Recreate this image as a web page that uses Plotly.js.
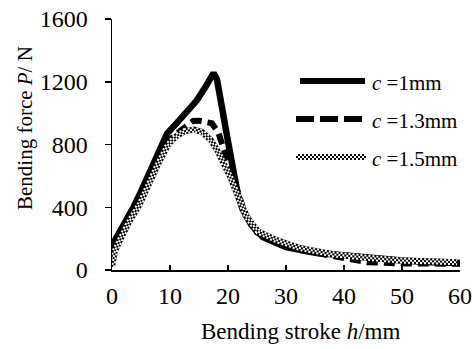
<!DOCTYPE html>
<html><head><meta charset="utf-8">
<script src="https://cdn.plot.ly/plotly-3.0.1.min.js"></script>
<style>html,body{margin:0;padding:0;background:#fff}#c{width:472px;height:349px}</style>
</head><body><div id="c"></div>
<script>
// Bending stroke h (mm) and bending force P (N) for three clearances c
var labels = ["=1mm", "=1.3mm", "=1.5mm"];
var xTitle = "Bending stroke <i>h</i>/mm";
var yTitle = "Bending force <i>P</i>/ N";
var x1 = [0,0.7,1.5,3,3.7,5,7,8.6,9.5,11,13,14.6,16,17,17.5,18.1,19,20,21,21.7,22.5,24,26,28,30,35,40,45,50,55,60];
var y1 = [155,200,240,340,400,500,660,790,870,930,1010,1080,1160,1230,1255,1215,1050,820,620,480,390,290,210,175,145,110,90,75,60,50,45];
var x2 = [0,1,3,5,7,9,10,11.5,13,14,15,16,17.2,18.3,19.1,20,21,21.7,23,25,28,32,38,44,50,55,60];
var y2 = [120,190,320,460,610,760,830,880,925,950,952,945,935,880,785,680,560,480,350,240,180,130,90,50,42,40,40];
var x3 = [0,0.5,1.5,3,4.8,6,8,9.7,11,12.5,14.2,15.5,17,18.1,19.2,20.3,21.5,23.2,25.2,28.4,32.4,38,44,50,55,59.5];
var y3 = [20,120,200,310,420,520,680,800,850,885,895,880,830,765,690,600,490,340,245,190,140,100,78,60,55,50];

var FONT = "Liberation Serif";
function checker(x, y, name) {
  return [
    {x:x, y:y, mode:"lines", name:name, line:{color:"#000", width:6}, hoverinfo:"skip", showlegend:false},
    {x:x, y:y, mode:"lines", name:name, line:{color:"#fff", width:6, dash:"2px,2px"}, hoverinfo:"skip", showlegend:false},
    {x:x, y:y, mode:"lines", name:name, line:{color:"#000", width:2}, hoverinfo:"skip", showlegend:false},
    {x:x, y:y, mode:"lines", name:name, line:{color:"#fff", width:2, dash:"0px,2px,2px,0px"}, hoverinfo:"skip", showlegend:false}
  ];
}
var traces = [
  {x:x2, y:y2, mode:"lines", name:"c "+labels[1], line:{color:"#000", width:6, dash:"11px,6px"}, showlegend:false},
  {x:x1, y:y1, mode:"lines", name:"c "+labels[0], line:{color:"#000", width:6.5}, showlegend:false}
].concat(checker(x3, y3, "c "+labels[2]));

function px2x(p){return (p-112)/348;}
function py2y(p){return (270-p)/251;}
var legY = [81,119,157];
var shapes = [
  {type:"line", xref:"paper", yref:"paper", x0:px2x(300), x1:px2x(365), y0:py2y(legY[0]), y1:py2y(legY[0]), line:{color:"#000", width:6}},
  {type:"line", xref:"paper", yref:"paper", x0:px2x(296), x1:px2x(366), y0:py2y(legY[1]), y1:py2y(legY[1]), line:{color:"#000", width:6, dash:"18px,6px"}},
  {type:"line", xref:"paper", yref:"paper", x0:px2x(296), x1:px2x(366), y0:py2y(legY[2]), y1:py2y(legY[2]), line:{color:"#000", width:6}},
  {type:"line", xref:"paper", yref:"paper", x0:px2x(296), x1:px2x(366), y0:py2y(legY[2]), y1:py2y(legY[2]), line:{color:"#fff", width:6, dash:"2px,2px"}},
  {type:"line", xref:"paper", yref:"paper", x0:px2x(296), x1:px2x(366), y0:py2y(legY[2]), y1:py2y(legY[2]), line:{color:"#000", width:2}},
  {type:"line", xref:"paper", yref:"paper", x0:px2x(296), x1:px2x(366), y0:py2y(legY[2]), y1:py2y(legY[2]), line:{color:"#fff", width:2, dash:"0px,2px,2px,0px"}}
];
var annotations = labels.map(function(t,i){
  return {xref:"paper", yref:"paper", x:px2x(370), y:py2y(legY[i]+2), xanchor:"left", yanchor:"middle",
    text:"<i>c</i> "+t, showarrow:false, font:{family:FONT, size:21, color:"#000"}};
});
annotations.push({xref:"paper", yref:"paper", x:px2x(300), y:py2y(331), xanchor:"center", yanchor:"middle",
  text:xTitle, showarrow:false, font:{family:FONT, size:23, color:"#000"}});
annotations.push({xref:"paper", yref:"paper", x:px2x(25), y:py2y(128), xanchor:"center", yanchor:"middle", textangle:-90,
  text:yTitle, showarrow:false, font:{family:FONT, size:21, color:"#000"}});

var layout = {
  width:472, height:349,
  margin:{l:112, r:12, t:19, b:79},
  paper_bgcolor:"#fff", plot_bgcolor:"#fff",
  font:{family:FONT, size:20, color:"#000"},
  showlegend:false,
  xaxis:{range:[0,60], tickvals:[0,10,20,30,40,50,60], showgrid:false, zeroline:false,
    showline:true, linecolor:"#000", linewidth:1.5, ticks:"inside", ticklen:5, tickcolor:"#000", tickwidth:1.5,
    ticklabelstandoff:4, tickfont:{family:FONT, size:24}},
  yaxis:{range:[0,1600], tickvals:[0,400,800,1200,1600], showgrid:false, zeroline:false,
    showline:true, linecolor:"#000", linewidth:1.5, ticks:"outside", ticklen:6, tickcolor:"#000", tickwidth:1.5,
    ticklabelstandoff:12, tickfont:{family:FONT, size:24}},
  shapes:shapes, annotations:annotations
};
Plotly.newPlot("c", traces, layout, {staticPlot:true, displayModeBar:false});
</script></body></html>
